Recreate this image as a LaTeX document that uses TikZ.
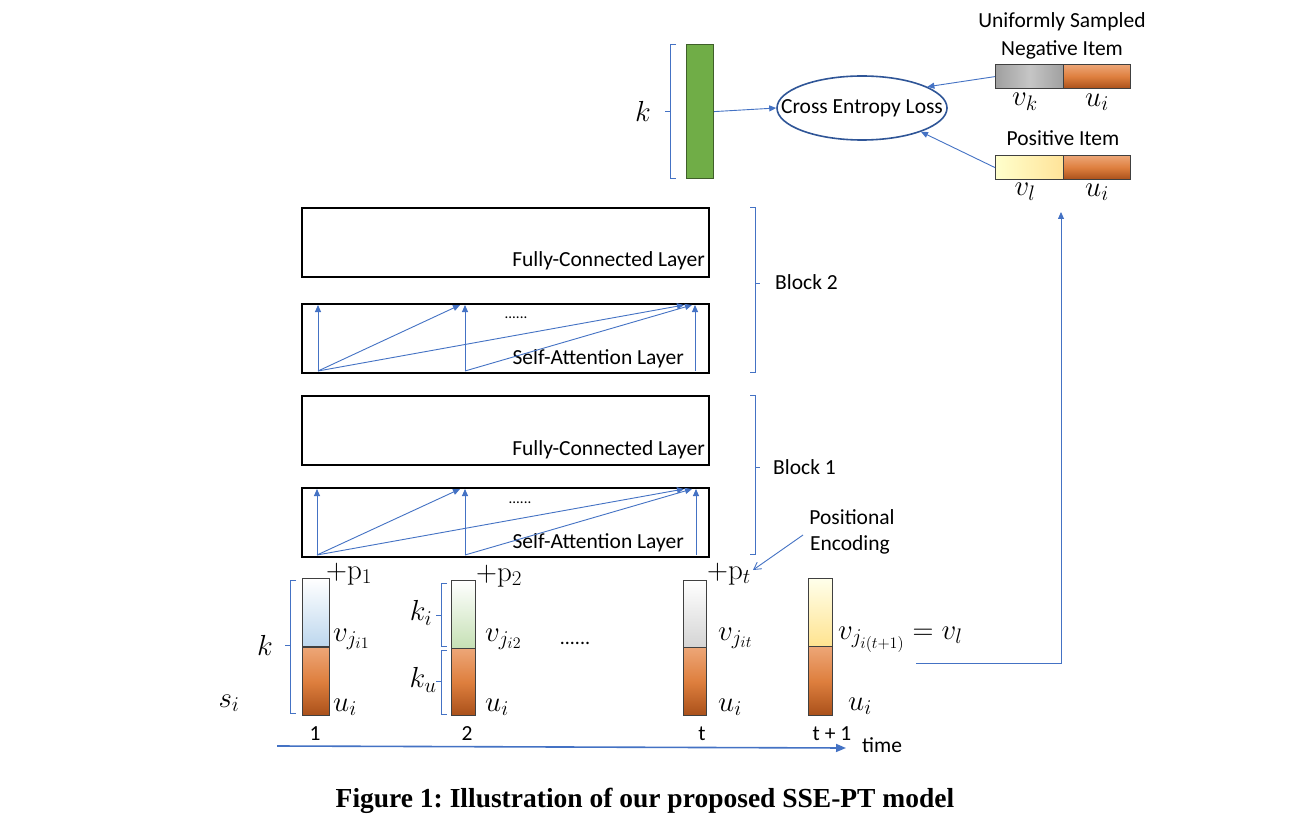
\documentclass[tikz,border=0pt]{standalone}
\usepackage{fix-cm}
\usepackage[no-math]{fontspec}
\setmainfont{Carlito}
\newfontfamily\capfont{Liberation Serif}
\DeclareMathSizes{29}{29}{21}{16}
\usetikzlibrary{arrows.meta,shapes.geometric}
\definecolor{lblue}{HTML}{4472C4}
\definecolor{dblue}{HTML}{2F5597}
\definecolor{gfill}{HTML}{70AD47}
\definecolor{gdraw}{HTML}{3F5F2A}
\definecolor{orT}{HTML}{EDA677}
\definecolor{orM}{HTML}{DE7F3E}
\definecolor{orB}{HTML}{A9501A}
\definecolor{bdr}{HTML}{404040}
\definecolor{cblue}{HTML}{BDD7EE}
\definecolor{cgreen}{HTML}{C5E0B4}
\definecolor{cgray}{HTML}{D4D4D4}
\definecolor{cyel}{HTML}{FFE38F}
\tikzset{
  bl/.style={draw=lblue,line width=0.9pt},
  arr/.style={draw=lblue,line width=0.9pt,-{Triangle[length=7pt,width=6pt]}},
  layerbox/.style={draw=black,line width=1.8pt,minimum width=407pt,minimum height=69pt,anchor=north west,inner sep=0pt},
  colpart/.style={draw=bdr,line width=1.2pt,minimum width=25pt,minimum height=68pt,anchor=north west,inner sep=0pt},
  orpart/.style={colpart,top color=orT,bottom color=orB,middle color=orM},
  hpart/.style={draw=bdr,line width=1.2pt,minimum width=68pt,minimum height=24pt,anchor=north west,inner sep=0pt},
  lbl/.style={inner sep=0pt,font=\fontsize{21.5}{24}\selectfont},
  mth/.style={inner sep=0pt,font=\fontsize{29}{32}\selectfont},
}
\begin{document}
\frenchspacing
\begin{tikzpicture}[x=1pt,y=-1pt]
\useasboundingbox (0,0) rectangle (1290,834);
\fill[white] (0,0) rectangle (1290,834);

% ---------- top: output vector and loss ----------
\node[draw=gdraw,fill=gfill,line width=1.2pt,minimum width=27pt,minimum height=134pt,anchor=north west,inner sep=0pt] (outv) at (686,44) {};
\draw[bl] (676,44) -- (670,44) -- (670,178) -- (676,178) (670,111) -- (665,111);
\node[mth] (ktop) at (643,111) {$k$};

\node[ellipse,draw=dblue,line width=1.6pt,minimum width=170pt,minimum height=64pt,inner sep=0pt] (loss) at (862,108) {};
\node[lbl] (losst) at (862,108) {Cross Entropy Loss};

\node[hpart,left color=gray!75,right color=gray!75,middle color=gray!45] (negv) at (995,64) {};
\node[hpart,top color=orT,bottom color=orB,middle color=orM,minimum width=67pt] (negu) at (1063,64) {};
\node[lbl,anchor=base] (unif) at (1062,28) {Uniformly Sampled};
\node[lbl,anchor=base] (negt) at (1062,56) {Negative Item};
\node[mth] (vk) at (1025,102) {$v_k$};
\node[mth] (ui1) at (1097,102) {$u_i$};

\node[hpart,left color=yellow!20,right color=yellow!45!orange!40] (posv) at (995,155) {};
\node[hpart,top color=orT,bottom color=orB,middle color=orM,minimum width=67pt] (posu) at (1063,155) {};
\node[lbl,anchor=base] (post) at (1063,146) {Positive Item};
\node[mth] (vl) at (1025,192) {$v_l$};
\node[mth] (ui2) at (1097,192) {$u_i$};

\draw[arr] (outv.east) -- (loss.west);
\draw[arr] (negv.west) -- (loss.18);
\draw[arr] (posv.west) -- (loss.-22);

% ---------- layers ----------
\node[layerbox] (fc2) at (301,207) {};
\node[layerbox] (sa2) at (301,303) {};
\node[layerbox] (fc1) at (301,395) {};
\node[layerbox] (sa1) at (301,487) {};
\node[lbl,anchor=base east] (fc2t) at (705,267) {Fully-Connected Layer};
\node[lbl,anchor=base east] (sa2t) at (684,364) {Self-Attention Layer};
\node[lbl,anchor=base east] (fc1t) at (705,455) {Fully-Connected Layer};
\node[lbl,anchor=base east] (sa1t) at (684,548) {Self-Attention Layer};
\node[inner sep=0pt,font=\fontsize{15}{16}\selectfont] (dots2) at (516,318) {......};
\node[inner sep=0pt,font=\fontsize{15}{16}\selectfont] (dots1) at (520,503) {......};

% attention arrows block 2
\coordinate (b2a) at (318,371);
\coordinate (b2b) at (465,371);
\coordinate (b2c) at (695,371);
\coordinate (t2a) at (318,305);
\coordinate (t2b) at (460,305);
\coordinate (t2c) at (465,305);
\coordinate (t2d) at (684,305);
\coordinate (t2e) at (692,305);
\coordinate (t2f) at (695,305);
\draw[arr] (b2a) -- (t2a);
\draw[arr] (b2a) -- (t2b);
\draw[arr] (b2a) -- (t2d);
\draw[arr] (b2b) -- (t2c);
\draw[arr] (b2b) -- (t2e);
\draw[arr] (b2c) -- (t2f);
% attention arrows block 1
\coordinate (b1a) at (317,555);
\coordinate (b1b) at (465,555);
\coordinate (b1c) at (696,555);
\coordinate (t1a) at (317,489);
\coordinate (t1b) at (460,489);
\coordinate (t1c) at (465,489);
\coordinate (t1d) at (684,489);
\coordinate (t1e) at (692,489);
\coordinate (t1f) at (696,489);
\draw[arr] (b1a) -- (t1a);
\draw[arr] (b1a) -- (t1b);
\draw[arr] (b1a) -- (t1d);
\draw[arr] (b1b) -- (t1c);
\draw[arr] (b1b) -- (t1e);
\draw[arr] (b1c) -- (t1f);

% block brackets
\draw[bl] (750,207) -- (755,207) -- (755,372) -- (750,372) (755,283) -- (760,283);
\draw[bl] (750,395) -- (755,395) -- (755,554) -- (750,554) (755,467) -- (760,467);
\node[lbl,anchor=base west] (blk2) at (775,290) {Block 2};
\node[lbl,anchor=base west] (blk1) at (773,474) {Block 1};

% positional encoding
\node[lbl,anchor=base] (pos1) at (852,524) {Positional};
\node[lbl,anchor=base] (pos2) at (850,550) {Encoding};
\coordinate (pearr) at (803,535);
\coordinate (petip) at (753,570);
\draw[bl,-{Straight Barb[length=7pt,width=8pt]}] (pearr) -- (petip);

% ---------- embedding columns ----------
% column 1
\node[colpart,minimum width=27pt,top color=white,bottom color=cblue] (c1v) at (302,578) {};
\node[orpart,minimum width=27pt,minimum height=68pt] (c1u) at (302,647) {};
% column 2
\node[colpart,minimum width=24pt,top color=white,bottom color=cgreen,minimum height=68pt] (c2v) at (451,580) {};
\node[orpart,minimum width=24pt,minimum height=67pt] (c2u) at (451,648) {};
% column t
\node[colpart,minimum width=23pt,top color=white,bottom color=cgray,minimum height=67pt] (ctv) at (683,580) {};
\node[orpart,minimum width=23pt,minimum height=68pt] (ctu) at (683,647) {};
% column t+1
\node[colpart,minimum width=24pt,top color=yellow!8,bottom color=cyel,minimum height=68pt] (cnv) at (808,578) {};
\node[orpart,minimum width=24pt,minimum height=69pt] (cnu) at (808,646) {};

\node[mth,anchor=base west] (p1) at (326,579) {$+\mathrm{p}_1$};
\node[mth,anchor=base west] (p2) at (476,581) {$+\mathrm{p}_2$};
\node[mth,anchor=base west] (pt) at (707,579) {$+\mathrm{p}_t$};

\node[mth,anchor=base west] (v1) at (333,641) {$v_{j_{i1}}$};
\node[mth,anchor=base west] (v2) at (485,641) {$v_{j_{i2}}$};
\node[mth,anchor=base west] (vt) at (718,640) {$v_{j_{it}}$};
\node[mth,anchor=base west] (vn) at (838,639) {$v_{j_{i(t+1)}} = v_l$};
\node[mth,anchor=base west] (u1) at (333,711) {$u_i$};
\node[mth,anchor=base west] (u2) at (485,711) {$u_i$};
\node[mth,anchor=base west] (ut) at (718,711) {$u_i$};
\node[mth,anchor=base west] (un) at (848,710) {$u_i$};
\node[inner sep=0pt,font=\fontsize{20}{22}\selectfont] (cdots) at (575,643) {......};

% brackets left of columns
\draw[bl] (296,580) -- (290,580) -- (290,713) -- (296,713) (290,645) -- (285,645);
\node[mth] (kk) at (265,645) {$k$};
\node[mth] (si) at (229,703) {$s_i$};
\draw[bl] (447,583) -- (441,583) -- (441,646) -- (447,646) (441,615) -- (436,615);
\draw[bl] (447,650) -- (441,650) -- (441,714) -- (447,714) (441,681) -- (436,681);
\node[mth] (ki) at (421,613) {$k_i$};
\node[mth] (ku) at (423,680) {$k_u$};

% time labels
\node[lbl,anchor=base] (n1) at (315,740) {1};
\node[lbl,anchor=base] (n2) at (467,740) {2};
\node[lbl,anchor=base] (nt) at (702,740) {t};
\node[lbl,anchor=base] (nn) at (832,740) {t + 1};
\node[lbl,anchor=base west] (time) at (862,752) {time};
\coordinate (tstart) at (277,746);
\coordinate (tend) at (846,748);
\draw[draw=lblue,line width=1.6pt,-{Triangle[length=10pt,width=8pt]}] (tstart) -- (tend);

% feedback from target to positive item
\coordinate (fbs) at (916,663);
\coordinate (fbc) at (1061,663);
\coordinate (fbe) at (1061,212);
\draw[arr] (fbs) -- (fbc) -- (fbe);

% caption
\node[inner sep=0pt,font=\capfont\bfseries\fontsize{27.5}{30}\selectfont] (cap) at (645,801) {Figure 1: Illustration of our proposed SSE-PT model};
\end{tikzpicture}
\end{document}
